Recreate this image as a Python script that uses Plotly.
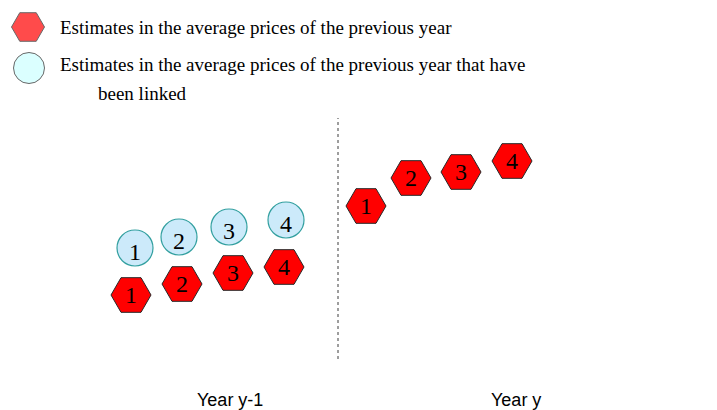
import plotly.graph_objects as go

# Diagram positions on a 717 x 410 canvas (y grows upward = higher estimate)
labels = ["1", "2", "3", "4"]

prev_year_x = [131, 182, 233, 284]
prev_year_y = [115, 126, 137, 143]

linked_x = [135, 179, 229, 286]
linked_y = [162, 173, 183, 190]

curr_year_x = [366, 411, 461, 512]
curr_year_y = [204, 232, 238, 249]

legend_x = [28, 29]
legend_y = [383, 342]

period_labels = ["Year y-1", "Year y"]
period_x = [230, 516]

RED = "rgb(255,0,0)"
LIGHT_BLUE = "rgb(204,234,250)"
TEAL = "rgb(51,160,160)"
SERIF = "Liberation Serif, Times New Roman, serif"
SANS = "Liberation Sans, Arial, sans-serif"

fig = go.Figure()

# hexagons: estimates in prices of previous year
fig.add_trace(go.Scatter(
    x=prev_year_x + curr_year_x, y=prev_year_y + curr_year_y,
    mode="markers", marker=dict(symbol="hexagon2", size=40, color=RED, line=dict(color="rgb(40,40,40)", width=1)),
    showlegend=False, hoverinfo="skip",
))
fig.add_trace(go.Scatter(
    x=prev_year_x + curr_year_x, y=[v - 2 for v in prev_year_y + curr_year_y],
    mode="text", text=labels + labels, textposition="middle center",
    textfont=dict(family=SERIF, size=24, color="black"),
    showlegend=False, hoverinfo="skip",
))

# circles: linked estimates
fig.add_trace(go.Scatter(
    x=linked_x, y=linked_y,
    mode="markers", marker=dict(symbol="circle", size=36, color=LIGHT_BLUE, line=dict(color=TEAL, width=1.2)),
    showlegend=False, hoverinfo="skip",
))
fig.add_trace(go.Scatter(
    x=linked_x, y=[v - 6 for v in linked_y],
    mode="text", text=labels, textposition="middle center",
    textfont=dict(family=SERIF, size=24, color="black"),
    showlegend=False, hoverinfo="skip",
))

# legend symbols
fig.add_trace(go.Scatter(
    x=legend_x, y=legend_y, mode="markers",
    marker=dict(symbol=["hexagon2", "circle"], size=[33, 31],
                color=[RED, "rgb(204,255,255)"], line=dict(color="rgb(40,40,40)", width=1)),
    showlegend=False, hoverinfo="skip",
))

legend_texts = [
    ("Estimates in the average prices of the previous year", 58, 383),
    ("Estimates in the average prices of the previous year that have", 58, 346),
    ("been linked", 96, 317),
]
for txt, x, y in legend_texts:
    fig.add_annotation(x=x, y=y, text=txt, showarrow=False, xanchor="left", yanchor="middle",
                       font=dict(family=SERIF, size=19, color="black"))

for txt, x in zip(period_labels, period_x):
    fig.add_annotation(x=x, y=10, text=txt, showarrow=False, xanchor="center", yanchor="middle",
                       font=dict(family=SANS, size=18, color="black"))

fig.add_shape(type="line", x0=338, x1=338, y0=51, y1=292,
              line=dict(color="rgb(60,60,60)", width=1, dash="dot"))

# page body has an 8px margin, so the figure is drawn 8px smaller and the
# axis ranges start at the 8px offset so the canvas coordinates still line up
fig.update_layout(
    width=709, height=402, margin=dict(l=0, r=0, t=0, b=0),
    paper_bgcolor="white", plot_bgcolor="white",
    xaxis=dict(range=[8, 717], visible=False, fixedrange=True),
    yaxis=dict(range=[0, 402], visible=False, fixedrange=True),
)

fig.write_html("out.html")
